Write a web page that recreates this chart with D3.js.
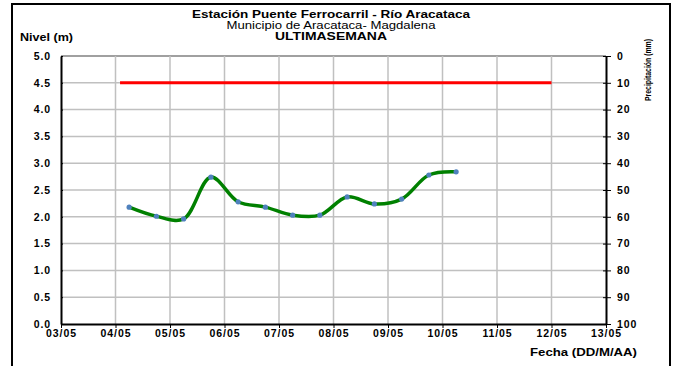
<!DOCTYPE html>
<html>
<head>
<meta charset="utf-8">
<script src="https://cdn.jsdelivr.net/npm/d3@7"></script>
<style>
  body { margin: 0; background: #fff; }
  text { font-family: "Liberation Sans", Arial, sans-serif; }
</style>
</head>
<body>
<div id="chart"></div>
<script>
// Nivel readings every 12h
const fechas = [
    "2011-05-04T06:00", "2011-05-04T18:00", "2011-05-05T06:00", "2011-05-05T18:00",
    "2011-05-06T06:00", "2011-05-06T18:00", "2011-05-07T06:00", "2011-05-07T18:00",
    "2011-05-08T06:00", "2011-05-08T18:00", "2011-05-09T06:00", "2011-05-09T18:00",
    "2011-05-10T06:00"
];
const niveles = [2.18, 2.01, 1.96, 2.74, 2.28, 2.18, 2.03, 2.03, 2.37, 2.24, 2.33, 2.78, 2.84];

// alert threshold line
const alertaFechas = ["2011-05-04T02:00", "2011-05-12T00:00"];
const alertaNivel = 4.5;

const yTicks = [0, 0.5, 1, 1.5, 2, 2.5, 3, 3.5, 4, 4.5, 5];
const precipTicks = [0, 10, 20, 30, 40, 50, 60, 70, 80, 90, 100];

const W = 677, H = 366;
const margin = {top: 56, left: 61, bottom: 42, right: 71};
const width = W - margin.left - margin.right;
const height = H - margin.top - margin.bottom;

const parse = d3.timeParse("%Y-%m-%dT%H:%M");
const data = fechas.map((f, i) => ({date: parse(f), value: niveles[i]}));

const x = d3.scaleTime()
    .domain([new Date(2011, 4, 3), new Date(2011, 4, 13)])
    .range([0, width]);
const y = d3.scaleLinear().domain([0, 5]).range([height, 0]);
const y2 = d3.scaleLinear().domain([0, 100]).range([0, height]);

const svg = d3.select("#chart").append("svg")
    .attr("width", W)
    .attr("height", H);

// outer frame
svg.append("rect")
    .attr("x", 12).attr("y", 4)
    .attr("width", 658).attr("height", 380)
    .attr("fill", "none")
    .attr("stroke", "#000")
    .attr("stroke-width", 2);

// titles (text is stretched wide in the original)
const titles = [
    {t: "Estación Puente Ferrocarril - Río Aracataca", y: 18, w: "bold", len: 278},
    {t: "Municipio de Aracataca- Magdalena", y: 29, w: "normal", len: 209},
    {t: "ULTIMASEMANA", y: 40, w: "bold", len: 112}
];
svg.selectAll(".title").data(titles).enter().append("text")
    .attr("class", "title")
    .attr("x", 331).attr("y", d => d.y)
    .attr("text-anchor", "middle")
    .attr("font-size", "11px")
    .attr("font-weight", d => d.w)
    .attr("textLength", d => d.len)
    .attr("lengthAdjust", "spacingAndGlyphs")
    .text(d => d.t);

svg.append("text")
    .attr("x", 20).attr("y", 41)
    .attr("font-size", "11px")
    .attr("font-weight", "bold")
    .attr("textLength", 53)
    .attr("lengthAdjust", "spacingAndGlyphs")
    .text("Nivel (m)");

const g = svg.append("g")
    .attr("transform", `translate(${margin.left},${margin.top})`);

const days = d3.timeDay.range(new Date(2011, 4, 3), new Date(2011, 4, 14));

// grid
g.append("g").selectAll("line").data(yTicks.slice(1)).enter().append("line")
    .attr("x1", 0).attr("x2", width)
    .attr("y1", d => y(d)).attr("y2", d => y(d))
    .attr("stroke", d => d === 5 ? "#808080" : "#c0c0c0")
    .attr("stroke-width", 1.5);
g.append("g").selectAll("line").data(days.slice(1, -1)).enter().append("line")
    .attr("x1", d => x(d)).attr("x2", d => x(d))
    .attr("y1", 0).attr("y2", height)
    .attr("stroke", "#c0c0c0")
    .attr("stroke-width", 1.5);

// axes
const axisFont = g => g.selectAll("text")
    .attr("font-family", "Liberation Sans, Arial, sans-serif")
    .attr("font-size", "10.5px")
    .attr("font-weight", "bold")
    .attr("letter-spacing", "0.9px")
    .attr("fill", "#000");

g.append("g")
    .call(d3.axisLeft(y).tickValues(yTicks).tickFormat(d3.format(".1f")).tickSize(4).tickSizeOuter(0))
    .call(a => a.select(".domain").attr("stroke-width", 2))
    .call(a => a.selectAll(".tick line").attr("x2", 2))
    .call(axisFont)
    .call(a => a.selectAll("text").attr("x", -10));

g.append("g")
    .attr("transform", `translate(0,${height})`)
    .call(d3.axisBottom(x).tickValues(days).tickFormat(d3.timeFormat("%d/%m")).tickSize(4).tickSizeOuter(0))
    .call(a => a.select(".domain").attr("stroke-width", 2))
    .call(axisFont)
    .call(a => a.selectAll("text").attr("y", 6));

g.append("g")
    .attr("transform", `translate(${width},0)`)
    .call(d3.axisRight(y2).tickValues(precipTicks).tickSize(5).tickSizeOuter(0))
    .call(a => a.select(".domain").attr("stroke-width", 2))
    .call(a => a.selectAll(".tick line").attr("x1", -3))
    .call(axisFont)
    .call(a => a.selectAll("text").attr("x", 11));

svg.append("text")
    .attr("transform", "translate(651,101) rotate(-90)")
    .attr("font-size", "9px")
    .attr("font-weight", "bold")
    .attr("textLength", 62)
    .attr("lengthAdjust", "spacingAndGlyphs")
    .text("Precipitación (mm)");

svg.append("text")
    .attr("x", 637).attr("y", 356)
    .attr("text-anchor", "end")
    .attr("font-size", "11px")
    .attr("font-weight", "bold")
    .attr("textLength", 107)
    .attr("lengthAdjust", "spacingAndGlyphs")
    .text("Fecha (DD/M/AA)");

// alert line
g.append("line")
    .attr("x1", x(parse(alertaFechas[0]))).attr("x2", x(parse(alertaFechas[1])))
    .attr("y1", y(alertaNivel)).attr("y2", y(alertaNivel))
    .attr("stroke", "#ff0000")
    .attr("stroke-width", 3);

// level series
const line = d3.line()
    .x(d => x(d.date))
    .y(d => y(d.value))
    .curve(d3.curveCatmullRom.alpha(0.5));

g.append("path")
    .datum(data)
    .attr("d", line)
    .attr("fill", "none")
    .attr("stroke", "#008000")
    .attr("stroke-width", 3.5);

g.selectAll(".pt").data(data).enter().append("circle")
    .attr("class", "pt")
    .attr("cx", d => x(d.date))
    .attr("cy", d => y(d.value))
    .attr("r", 2.6)
    .attr("fill", "#4f81bd");
</script>
</body>
</html>
